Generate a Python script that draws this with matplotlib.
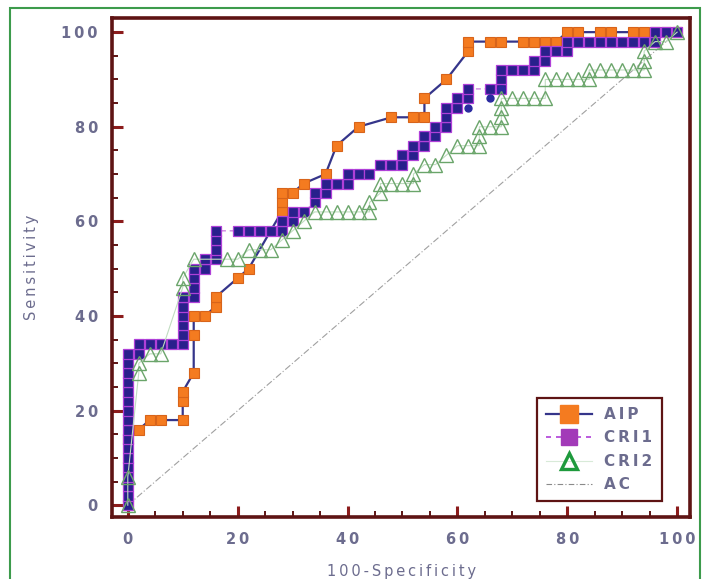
import matplotlib.pyplot as plt
from matplotlib.lines import Line2D
from matplotlib.patches import Rectangle
from matplotlib.ticker import MultipleLocator

# ROC points (100-Specificity, Sensitivity)
aip_x = [0, 0, 2, 4, 6, 10, 10, 10, 12, 12, 12, 14, 16, 16, 20, 22, 28, 28, 28, 30,
         32, 36, 38, 42, 48, 52, 54, 54, 58, 62, 62, 66, 68, 72, 74, 76, 78, 80, 82,
         86, 88, 92, 94, 96, 98, 100]
aip_y = [0, 14, 16, 18, 18, 18, 22, 24, 28, 36, 40, 40, 42, 44, 48, 50, 62, 64, 66, 66,
         68, 70, 76, 80, 82, 82, 82, 86, 90, 96, 98, 98, 98, 98, 98, 98, 98, 100, 100,
         100, 100, 100, 100, 100, 100, 100]

cri1_x = [0, 0, 0, 0, 0, 0, 0, 0, 0, 0, 0, 0, 0, 0, 0, 0, 0,
          2, 2, 4, 6, 8, 10, 10, 10, 10, 10, 10,
          12, 12, 12, 12, 14, 14, 16, 16, 16, 16,
          20, 22, 24, 26, 28, 28, 30, 30, 32, 34, 34, 36, 36, 38, 40, 40, 42, 44,
          46, 48, 50, 50, 52, 52, 54, 54, 56, 56, 58, 58, 58, 60, 60, 62, 62,
          66, 68, 68, 68, 70, 72, 74, 74, 76, 76, 78, 80, 80, 82, 84, 86, 88, 90,
          92, 94, 96, 96, 98, 100]
cri1_y = [0, 2, 4, 6, 8, 10, 12, 14, 16, 18, 20, 22, 24, 26, 28, 30, 32,
          32, 34, 34, 34, 34, 34, 36, 38, 40, 42, 44,
          44, 46, 48, 50, 50, 52, 52, 54, 56, 58,
          58, 58, 58, 58, 58, 60, 60, 62, 62, 64, 66, 66, 68, 68, 68, 70, 70, 70,
          72, 72, 72, 74, 74, 76, 76, 78, 78, 80, 80, 82, 84, 84, 86, 86, 88,
          88, 88, 90, 92, 92, 92, 92, 94, 94, 96, 96, 96, 98, 98, 98, 98, 98, 98,
          98, 98, 98, 100, 100, 100]
# stray round markers next to the CRI1 curve
cri1_dot_x = [62, 66, 68]
cri1_dot_y = [84, 86, 88]

cri2_x = [0, 0, 2, 2, 4, 6, 10, 10, 12, 18, 20, 22, 24, 26, 28, 30, 32, 34, 36, 38,
          40, 42, 44, 44, 46, 46, 48, 50, 52, 52, 54, 56, 58, 60, 62, 64, 64, 64,
          66, 68, 68, 68, 68, 70, 72, 74, 76, 76, 78, 80, 82, 84, 84, 86, 88, 90,
          92, 94, 94, 94, 96, 98, 100]
cri2_y = [0, 6, 28, 30, 32, 32, 46, 48, 52, 52, 52, 54, 54, 54, 56, 58, 60, 62, 62, 62,
          62, 62, 62, 64, 66, 68, 68, 68, 68, 70, 72, 72, 74, 76, 76, 76, 78, 80,
          80, 80, 82, 84, 86, 86, 86, 86, 86, 90, 90, 90, 90, 90, 92, 92, 92, 92,
          92, 92, 94, 96, 98, 98, 100]

ac_x = [0, 100]
ac_y = [0, 100]

tick_values = [0, 20, 40, 60, 80, 100]
tick_labels = ["0", "20", "40", "60", "80", "100"]
legend_names = ["AIP", "CRI1", "CRI2", "AC"]

NAVY = "#35358a"
ORANGE = "#f47b20"
CRI1_FACE = "#29208c"
CRI1_EDGE = "#b040d8"
GREEN = "#6aa56a"
TEXT = "#6c6c8e"
MAROON = "#5e1414"


def spaced(s):
    return "\u2009".join(s)


fig = plt.figure(figsize=(7.08, 5.79), dpi=100)
ax = fig.add_axes([0.158, 0.107, 0.817, 0.862])

ax.plot(ac_x, ac_y, color="#a0a0a0", lw=0.8, ls=(0, (6, 2, 1, 2)), zorder=1)
ax.plot(aip_x, aip_y, color=NAVY, lw=1.6, marker="s", ms=7.8,
        mfc=ORANGE, mec="#d8641a", mew=0.8, zorder=3)
ax.plot(cri1_x, cri1_y, color="#c878dc", lw=0.9, ls=(0, (4, 3)), marker="s", ms=7.8,
        mfc=CRI1_FACE, mec=CRI1_EDGE, mew=0.9, zorder=4)
ax.plot(cri1_dot_x, cri1_dot_y, ls="none", marker="o", ms=5, mfc="#2a2aa0",
        mec="#2a2aa0", zorder=4)
ax.plot(cri2_x, cri2_y, color="#c0dcc0", lw=0.8, marker="^", ms=10.5,
        mfc="none", mec=GREEN, mew=1.0, zorder=5)

ax.set_xlim(-2.9, 102.4)
ax.set_ylim(-2.5, 103)

for s in ax.spines.values():
    s.set_color(MAROON)
    s.set_linewidth(2.6)

ax.set_xticks(tick_values)
ax.set_yticks(tick_values)
ax.set_xticklabels([spaced(t) for t in tick_labels])
ax.set_yticklabels([spaced(t) for t in tick_labels])
ax.xaxis.set_minor_locator(MultipleLocator(5))
ax.yaxis.set_minor_locator(MultipleLocator(5))
ax.tick_params(which="major", direction="in", length=8, width=2.2, color="#8c1c1c",
               labelsize=10.5, labelcolor=TEXT)
ax.tick_params(axis="x", which="major", pad=11)
ax.tick_params(axis="y", which="major", pad=10)
ax.tick_params(which="minor", direction="in", length=4.5, width=1.4, color=MAROON)
for lab in ax.get_xticklabels() + ax.get_yticklabels():
    lab.set_fontweight("bold")

ax.set_xlabel(spaced("100-Specificity"), fontsize=10.5, color=TEXT, labelpad=12)
ax.set_ylabel(spaced("Sensitivity"), fontsize=10.5, color=TEXT, labelpad=16)

handles = [
    Line2D([], [], color=NAVY, lw=1.6, marker="s", ms=13, mfc=ORANGE, mec=ORANGE),
    Line2D([], [], color=CRI1_EDGE, lw=1.2, ls=(0, (3, 3)), marker="s", ms=12,
           mfc="#a23ab8", mec="#a23ab8"),
    Line2D([], [], color="#d8ead8", lw=0.8, marker="^", ms=12, mfc="none",
           mec="#1e9a3c", mew=2.4),
    Line2D([], [], color="#8a8a8a", lw=0.8, ls=(0, (5, 2, 1, 2))),
]
leg = ax.legend(handles, [spaced(n) for n in legend_names], loc="lower left",
                bbox_to_anchor=(0.722, 0.016), fontsize=11, labelcolor=TEXT,
                handlelength=3.0, labelspacing=0.55, borderpad=0.6,
                fancybox=False, framealpha=1, edgecolor=MAROON)
leg.get_frame().set_linewidth(1.6)
for t in leg.get_texts():
    t.set_fontweight("bold")

fig.patches.append(Rectangle((10 / 708, -0.02), 690 / 708, 1 - 8 / 579 + 0.02,
                             transform=fig.transFigure, fill=False,
                             edgecolor="#3d9b4c", lw=1.5))

plt.savefig("out.png", dpi=100)
